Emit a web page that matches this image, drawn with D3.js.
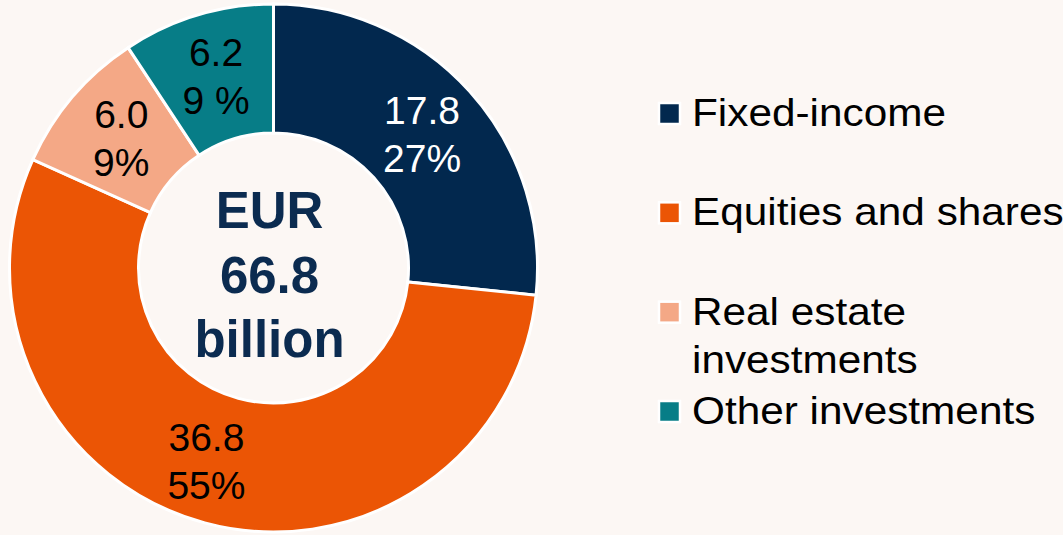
<!DOCTYPE html>
<html>
<head>
<meta charset="utf-8">
<script src="https://cdn.jsdelivr.net/npm/d3@7"></script>
<style>
    html, body { margin: 0; padding: 0; background: #fcf7f4; }
    svg { display: block; font-family: "Liberation Sans", Arial, sans-serif; }
</style>
</head>
<body>
<svg id="chart" width="1063" height="535"></svg>
<script>
const categories = ['Fixed-income', 'Equities and shares', 'Real estate investments', 'Other investments'];
const values = [17.8, 36.8, 6.0, 6.2];
const shares = ['27%', '55%', '9%', '9 %'];
const legendLines = [['Fixed-income'], ['Equities and shares'], ['Real estate', 'investments'], ['Other investments']];
const centerLines = ['EUR', '66.8', 'billion'];

const colors = ['#02284e', '#eb5505', '#f4a886', '#077d87'];

const svg = d3.select('#chart');
const cx = 273.5, cy = 268;
const outer = 264, inner = 135;

// donut
const pie = d3.pie().sort(null).value(d => d.value);
const arc = d3.arc().innerRadius(inner).outerRadius(outer);
const labelArc = d3.arc().innerRadius(200).outerRadius(200);
const data = categories.map((name, i) => ({name, value: values[i], share: shares[i], color: colors[i]}));

const g = svg.append('g').attr('transform', `translate(${cx},${cy})`);
const slices = pie(data);

g.selectAll('path.slice')
    .data(slices)
    .join('path')
    .attr('class', 'slice')
    .attr('d', arc)
    .attr('fill', d => d.data.color)
    .attr('stroke', 'white')
    .attr('stroke-width', 3);

// value labels, two lines each
const labels = g.selectAll('text.label')
    .data(slices)
    .join('text')
    .attr('class', 'label')
    .attr('text-anchor', 'middle')
    .attr('font-size', 39)
    .attr('fill', d => d.index === 0 ? 'white' : 'black')
    .attr('transform', d => {
        let [x, y] = labelArc.centroid(d);
        if (d.index === 1) x -= 15; // equities label sits a bit left of centre
        return `translate(${x},${y})`;
    });
labels.append('tspan').attr('x', 0).attr('y', -10).text(d => d.data.value.toFixed(1));
labels.append('tspan').attr('x', 0).attr('y', 38).text(d => d.data.share);

// total in the hole
const centerY = d3.scalePoint().domain(centerLines).range([-40, 89]);
g.selectAll('text.center')
    .data(centerLines)
    .join('text')
    .attr('class', 'center')
    .attr('x', -4)
    .attr('y', d => centerY(d))
    .attr('text-anchor', 'middle')
    .attr('font-size', 51)
    .attr('font-weight', 'bold')
    .attr('fill', '#0b2b50')
    .text(d => d);

// legend
const legendY = d3.scalePoint().domain(categories).range([126, 424]);
const legend = svg.append('g')
    .selectAll('g')
    .data(data)
    .join('g')
    .attr('transform', d => `translate(0,${legendY(d.name)})`);

legend.append('rect')
    .attr('x', 659)
    .attr('y', -23)
    .attr('width', 21)
    .attr('height', 21)
    .attr('fill', d => d.color)
    .attr('stroke', 'white')
    .attr('stroke-width', 2.5);

legend.append('text')
    .attr('transform', 'translate(692,0) scale(1.085,1)')
    .attr('font-size', 39)
    .attr('fill', 'black')
    .selectAll('tspan')
    .data((d, i) => legendLines[i])
    .join('tspan')
    .attr('x', 0)
    .attr('y', (d, i) => i * 48)
    .text(d => d);
</script>
</body>
</html>
